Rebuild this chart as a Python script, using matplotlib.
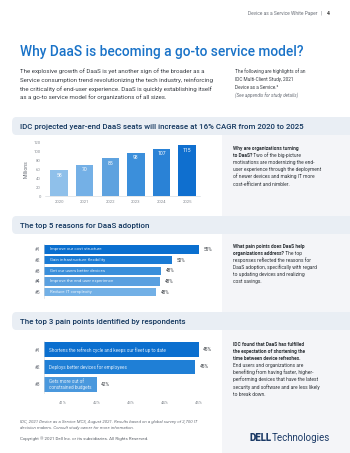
import matplotlib
matplotlib.use("Agg")
import matplotlib.pyplot as plt
from matplotlib.patches import FancyBboxPatch, Rectangle

plt.rcParams['font.family'] = ['Roboto', 'DejaVu Sans']

W, H = 350, 453

# chart data
years = ['2020', '2021', '2022', '2023', '2024', '2025']
seats = [58, 70, 85, 98, 107, 115]
seat_colors = ['#8fc0ea', '#74b0e6', '#5ea2df', '#3b8fdb', '#2a82d6', '#0f6fcf']

reasons = ['Improve our cost structure', 'Gain infrastructure flexibility',
           'Get our users better devices', 'Improve the end user experience',
           'Reduce IT complexity']
reason_pct = [55, 50, 48, 47.8, 47.1]
reason_lbl = ['55%', '50%', '48%', '48%', '48%']
reason_colors = ['#0a6fcf', '#1a7bd5', '#3a8fdb', '#5aa0e0', '#72b0e6']

pains = ['Shortens the refresh cycle and keeps our fleet up to date',
         'Deploys better devices for employees',
         'Gets more out of\nconstrained budgets']
pain_pct = [45.0, 44.9, 42.0]
pain_lbl = ['45%', '45%', '42%']
pain_colors = ['#0b6fcf', '#1f7fd6', '#4a98dd']
pain_ticks = [41, 42, 43, 44, 45]

NAVY = '#12365e'
GREY = '#5a5f66'
BLUE = '#1a73c8'

fig = plt.figure(figsize=(W / 100, H / 100), dpi=100)
fig.patch.set_facecolor('white')


def fx(x):
    return x / W


def fy(y):
    return 1 - y / H


def box(x0, y0, x1, y1, color, rounded=False):
    if rounded:
        p = FancyBboxPatch((fx(x0), fy(y1)), (x1 - x0) / W, (y1 - y0) / H,
                           boxstyle="round,pad=0,rounding_size=0.012",
                           transform=fig.transFigure, fc=color, ec='none', zorder=0)
    else:
        p = Rectangle((fx(x0), fy(y1)), (x1 - x0) / W, (y1 - y0) / H,
                      transform=fig.transFigure, fc=color, ec='none', zorder=0)
    fig.add_artist(p)


def para(x, y, lines, size, lh, color, style='normal'):
    # each line is a list of (text, weight) pieces
    r = fig.canvas.get_renderer()
    for i, segs in enumerate(lines):
        cx = x
        for s, w in segs:
            t = fig.text(fx(cx), fy(y + i * lh), s, fontsize=size, fontweight=w,
                         color=color, va='baseline', style=style)
            cx += t.get_window_extent(r).width


# backgrounds
box(222, 135, 350, 453, '#f4f5f8')
box(12, 117, 360, 135, '#e9eef4', rounded=True)
box(12, 216, 360, 234, '#e9eef4', rounded=True)
box(12, 312, 360, 330, '#e9eef4', rounded=True)

# header
fig.text(fx(322), fy(15), 'Device as a Service White Paper   |', fontsize=3.5,
         color='#6b7079', ha='right', va='baseline')
fig.text(fx(327), fy(15), '4', fontsize=3.7, color='#333', ha='left',
         va='baseline', fontweight='bold')

# title
fig.text(fx(20), fy(56), 'Why DaaS is becoming a go-to service model?',
         fontsize=9.9, color=BLUE, va='baseline', fontweight='medium')

intro = ['The explosive growth of DaaS is yet another sign of the broader as a',
         'Service consumption trend revolutionizing the tech industry, reinforcing',
         'the criticality of end-user experience. DaaS is quickly establishing itself',
         'as a go-to service model for organizations of all sizes.']
para(20, 73, [[(s, 'normal')] for s in intro], 4.4, 8.8, '#3a3f45')

note = ['The following are highlights of an', 'IDC Multi-Client Study, 2021',
        'Device as a Service.\u00b2']
para(235, 73, [[(s, 'normal')] for s in note], 3.4, 7.8, '#3a3f45')
fig.text(fx(235), fy(98), '(See appendix for study details)', fontsize=3.35,
         color='#6b7079', style='italic', va='baseline')

# section titles
band_titles = [(129, 'IDC projected year-end DaaS seats will increase at 16% CAGR from 2020 to 2025'),
               (228, 'The top 5 reasons for DaaS adoption'),
               (324, 'The top 3 pain points identified by respondents')]
for y, s in band_titles:
    fig.text(fx(20), fy(y), s, fontsize=5.7, color=NAVY, fontweight='medium',
             va='baseline')

# --- chart 1: seats
ax1 = fig.add_axes([fx(45), fy(196), 155 / W, 53 / H])
x = range(len(years))
bars = ax1.bar(x, seats, width=0.68, color=seat_colors)
for b, v in zip(bars, seats):
    ax1.text(b.get_x() + b.get_width() / 2, v - 11, str(v), ha='center',
             va='center', color='white', fontsize=3.7)
ax1.set_xticks(list(x))
ax1.set_xticklabels(years)
ax1.set_xlim(-0.55, 5.5)
ax1.set_ylim(0, 120)
ax1.set_yticks(range(0, 121, 20))
ax1.tick_params(labelsize=3.1, colors='#8a8f96', length=0, pad=3)
for sp in ['top', 'right', 'left']:
    ax1.spines[sp].set_visible(False)
ax1.spines['bottom'].set_color('#d0d4da')
ax1.spines['bottom'].set_linewidth(0.4)
ax1.set_ylabel('Millions', fontsize=3.7, color='#6b7079', labelpad=4)
ax1.patch.set_alpha(0)

para(233, 150, [[('Why are organizations turning', 'bold')],
                [('to DaaS?', 'bold'), (' Two of the big-picture', 'normal')],
                [('motivations are modernizing the end-', 'normal')],
                [('user experience through the deployment', 'normal')],
                [('of newer devices and making IT more', 'normal')],
                [('cost-efficient and nimbler.', 'normal')]], 3.55, 7.1, '#2e3338')

# --- chart 2: reasons
ax2 = fig.add_axes([fx(44), fy(298), 166 / W, 54 / H])
y2 = range(len(reasons))
ax2.barh(y2, reason_pct, height=0.78, color=reason_colors, left=0)
ax2.set_xlim(26.3, 57.0)
ax2.set_ylim(len(reasons) - 0.45, -0.5)
for i, (name, v, lbl) in enumerate(zip(reasons, reason_pct, reason_lbl)):
    ax2.text(27.4, i, name, color='white', fontsize=3.2, va='center', alpha=0.85)
    ax2.text(v + 0.9, i, lbl, color='#3a3f45', fontsize=3.4, va='center')
ax2.set_yticks(list(y2))
ax2.set_yticklabels(['#%d' % (i + 1) for i in y2])
ax2.set_xticks([])
ax2.tick_params(labelsize=3.4, colors='#6b7079', length=0, pad=3)
for sp in ['top', 'right', 'bottom']:
    ax2.spines[sp].set_visible(False)
ax2.spines['left'].set_color('#d0d4da')
ax2.spines['left'].set_linewidth(0.4)
ax2.patch.set_alpha(0)

para(233, 248, [[('What pain points does DaaS help', 'bold')],
                [('organizations address?', 'bold'), (' The top', 'normal')],
                [('responses reflected the reasons for', 'normal')],
                [('DaaS adoption, specifically with regard', 'normal')],
                [('to updating devices and realizing', 'normal')],
                [('cost savings.', 'normal')]], 3.55, 7.1, '#2e3338')

# --- chart 3: pain points
ax3 = fig.add_axes([fx(44), fy(393), 176 / W, 52 / H])
y3 = range(len(pains))
ax3.barh(y3, pain_pct, height=0.86, color=pain_colors, left=0)
ax3.set_xlim(40.45, 45.63)
ax3.set_ylim(len(pains) - 0.5, -0.5)
for i, (name, v, lbl) in enumerate(zip(pains, pain_pct, pain_lbl)):
    ax3.text(40.6, i, name, color='white', fontsize=3.3, va='center',
             linespacing=1.2, alpha=0.85)
    ax3.text(v + 0.13, i, lbl, color='#3a3f45', fontsize=3.5, va='center')
ax3.set_yticks(list(y3))
ax3.set_yticklabels(['#%d' % (i + 1) for i in y3])
ax3.set_xticks(pain_ticks)
ax3.set_xticklabels(['%d%%' % t for t in pain_ticks])
ax3.tick_params(axis='y', labelsize=3.4, colors='#6b7079', length=0, pad=3)
ax3.tick_params(axis='x', labelsize=3.1, colors='#8a8f96', length=0, pad=6)
for sp in ['top', 'right', 'bottom']:
    ax3.spines[sp].set_visible(False)
ax3.spines['left'].set_color('#d0d4da')
ax3.spines['left'].set_linewidth(0.4)
ax3.patch.set_alpha(0)

para(233, 346, [[('IDC found that DaaS has fulfilled', 'bold')],
                [('the expectation of shortening the', 'bold')],
                [('time between device refreshes.', 'bold')],
                [('End users and organizations are', 'normal')],
                [('benefiting from having faster, higher-', 'normal')],
                [('performing devices that have the latest', 'normal')],
                [('security and software and are less likely', 'normal')],
                [('to break down.', 'normal')]], 3.55, 7.1, '#2e3338')

# footnotes
para(20, 423, [[('IDC, 2021 Device as a Service MCS, August 2021. Results based on a global survey of 2,700 IT', 'normal')],
               [('decision makers. Consult study owner for more information.', 'normal')]],
     3.2, 6.0, '#6b7079', style='italic')
fig.text(fx(20), fy(440), 'Copyright \u00a9 2021 Dell Inc. or its subsidiaries. All Rights Reserved.',
         fontsize=3.15, color='#5a5f66', va='baseline')

# logo
para(250, 441, [[('DELL', 'heavy'), ('Technologies', 'normal')]], 7.0, 0, '#1b3a66')

fig.savefig('out.png', dpi=100)
